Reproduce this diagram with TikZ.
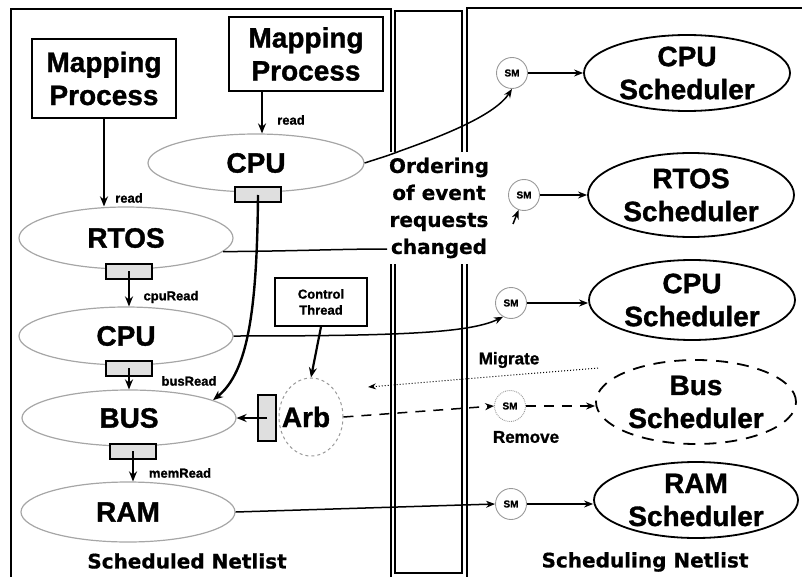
\documentclass[tikz,border=0pt]{standalone}
\usepackage{fontspec}
\setmainfont{Liberation Sans}[BoldFeatures={FakeBold=1.2}]
\newfontfamily\tahfont{DejaVu Sans}[BoldFeatures={FakeBold=0.6}]
\usetikzlibrary{shapes.geometric,arrows.meta,calc}
\begin{document}
\begin{tikzpicture}[x=1pt,y=-1pt,
  big/.style={font=\fontsize{28}{33}\selectfont\bfseries},
  lellipse/.style={ellipse, draw=gray!70, line width=1.2pt, inner sep=0pt, big},
  rellipse/.style={ellipse, draw=black, line width=1.8pt, inner xsep=0pt, inner ysep=-4pt, big, align=center},
  mapbox/.style={draw, line width=2.2pt, big, align=center, inner sep=0pt},
  smallrect/.style={draw, line width=2pt, fill=gray!25, minimum width=46pt, minimum height=15pt, inner sep=0pt},
  smnode/.style={circle, draw=gray!80, line width=0.9pt, minimum size=31pt, inner sep=0pt, font=\fontsize{10}{12}\selectfont\bfseries},
  lbl/.style={font=\fontsize{13}{16}\selectfont\bfseries, inner sep=0pt},
  midlbl/.style={font=\fontsize{17}{20}\selectfont\bfseries, inner sep=0pt},
  tahlbl/.style={font=\tahfont\fontsize{20}{27}\selectfont\bfseries, inner sep=0pt},
  arr/.style={-{Stealth[length=10pt,width=8pt]}, line width=2.2pt},
  tarr/.style={-{Stealth[length=9pt,width=7pt]}, line width=1.5pt},
  panel/.style={line width=2.4pt}
]
\useasboundingbox (0,0) rectangle (802,577);
\clip (0,0) rectangle (802,577);
% panels
\draw[panel] (11,590) -- (11,9) -- (391,9) -- (391,590);
\draw[panel] (395,11) rectangle (462,573);
\draw[panel] (467,590) -- (467,8) -- (810,8);
% note
\node[tahlbl, fill=white, inner xsep=2pt, minimum height=112pt, align=center] (note) at (439,208) {Ordering\\of event\\requests\\changed};
\coordinate (chg) at (387,249);
% mapping boxes
\node[mapbox, minimum width=144pt, minimum height=79pt] (mp1) at (104,78.5) {Mapping\\Process};
\node[mapbox, minimum width=154pt, minimum height=74pt] (mp2) at (306,54) {Mapping\\Process};
% left ellipses
\node[lellipse, minimum width=216pt, minimum height=58pt] (cputop) at (256,163) {CPU};
\node[lellipse, minimum width=214pt, minimum height=62pt] (rtos) at (126,238) {RTOS};
\node[lellipse, minimum width=214pt, minimum height=58pt] (cpumid) at (126,336) {CPU};
\node[lellipse, minimum width=214pt, minimum height=56pt] (bus) at (129,418) {BUS};
\node[lellipse, minimum width=214pt, minimum height=60pt] (ram) at (128,512) {RAM};
% small rects
\node[smallrect] (cpur) at (258,195) {};
\node[smallrect] (rtosr) at (129,271) {};
\node[smallrect] (cpumidr) at (129,368) {};
\node[smallrect] (busr) at (133,451) {};
\node[smallrect, minimum width=18pt, minimum height=46pt] (arbr) at (267,418) {};
% control thread and arb
\node[draw, line width=1.6pt, minimum width=92pt, minimum height=48pt, lbl, align=center] (ct) at (321,302) {Control\\Thread};
\node[ellipse, draw=gray!80, dashed, line width=1pt, minimum width=64pt, minimum height=78pt, inner sep=0pt, big] (arb) at (311,417) {\hspace*{-10pt}Arb};
% labels
\node[lbl] (rd1) at (129,198) {read};
\node[lbl] (rd2) at (291,120) {read};
\node[lbl] (cr) at (171,297) {cpuRead};
\node[lbl] (br) at (189,381) {busRead};
\node[lbl] (mr) at (180,473) {memRead};
\node[tahlbl] (sdn) at (187,561) {Scheduled Netlist};
\node[tahlbl] (sgn) at (645,562) {Scheduling Netlist};
\node[midlbl] (mig) at (509,360) {Migrate};
\node[midlbl] (rem) at (526,437) {Remove};
% left arrows
\draw[arr] (mp1.south) -- (mp1.south |- rtos.north);
\draw[arr] ([xshift=-44pt]mp2.south) -- ([xshift=-44pt]mp2.south |- cputop.north);
\draw[arr] (rtosr.center) -- (rtosr.center |- cpumid.north);
\draw[arr] (cpumidr.center) -- (cpumidr.center |- bus.north);
\draw[arr] (busr.center) -- (busr.center |- ram.north);
\draw[arr, line width=2.4pt] (cpur.center) .. controls (257,310) and (248,372) .. (bus.12);
\draw[arr] (arbr.center) -- (bus.east);
\draw[arr] (ct.south) -- (arb.north);
% scheduling netlist
\node[smnode] (sm1) at (512,73) {SM};
\node[smnode] (sm2) at (524,195) {SM};
\node[smnode] (sm3) at (511,303) {SM};
\node[smnode, densely dotted] (sm4) at (510,406) {SM};
\node[smnode] (sm5) at (511,504) {SM};
\node[rellipse, minimum width=206pt, minimum height=76pt] (cs1) at (687,73) {CPU\\Scheduler};
\node[rellipse, minimum width=206pt, minimum height=84pt] (rs) at (691,195) {RTOS\\Scheduler};
\node[rellipse, minimum width=206pt, minimum height=80pt] (cs2) at (692,300) {CPU\\Scheduler};
\node[rellipse, dash pattern=on 12pt off 9pt, minimum width=200pt, minimum height=84pt] (bs) at (696,402) {Bus\\Scheduler};
\node[rellipse, minimum width=204pt, minimum height=76pt] (ms) at (696,500) {RAM\\Scheduler};
\draw[tarr] (sm1.east) -- (cs1.west);
\draw[tarr] (sm2.east) -- (rs.west);
\draw[tarr] (sm3.east) -- (sm3.east -| cs2.west);
\draw[tarr, dash pattern=on 10pt off 8pt] (sm4.east) -- (sm4.east -| bs.west);
\draw[tarr] (sm5.east) -- (sm5.east -| ms.west);
% crossing connectors
\draw[tarr] (cputop.east) .. controls (380,158) and (390,155) .. (400,151) .. controls (445,135) and (495,115) .. (sm1.south);
\draw[line width=1.5pt] (rtos.-8) .. controls (300,251) and (340,249) .. (chg);
\coordinate (sm2t) at (513,224);
\draw[tarr] (sm2t) -- (sm2.250);
\draw[tarr] (cpumid.east) .. controls (400,336) and (470,333) .. (sm3.240);
\draw[tarr] (ram.east) -- (sm5.west);
\draw[tarr, dash pattern=on 10pt off 8pt] (arb.east) -- (sm4.west);
\coordinate (mgs) at (598,368);
\coordinate (mge) at (368,387);
\draw[-{Stealth[length=8pt,width=6pt]}, line width=1pt, dotted] (mgs) -- (mge);
\end{tikzpicture}
\end{document}
